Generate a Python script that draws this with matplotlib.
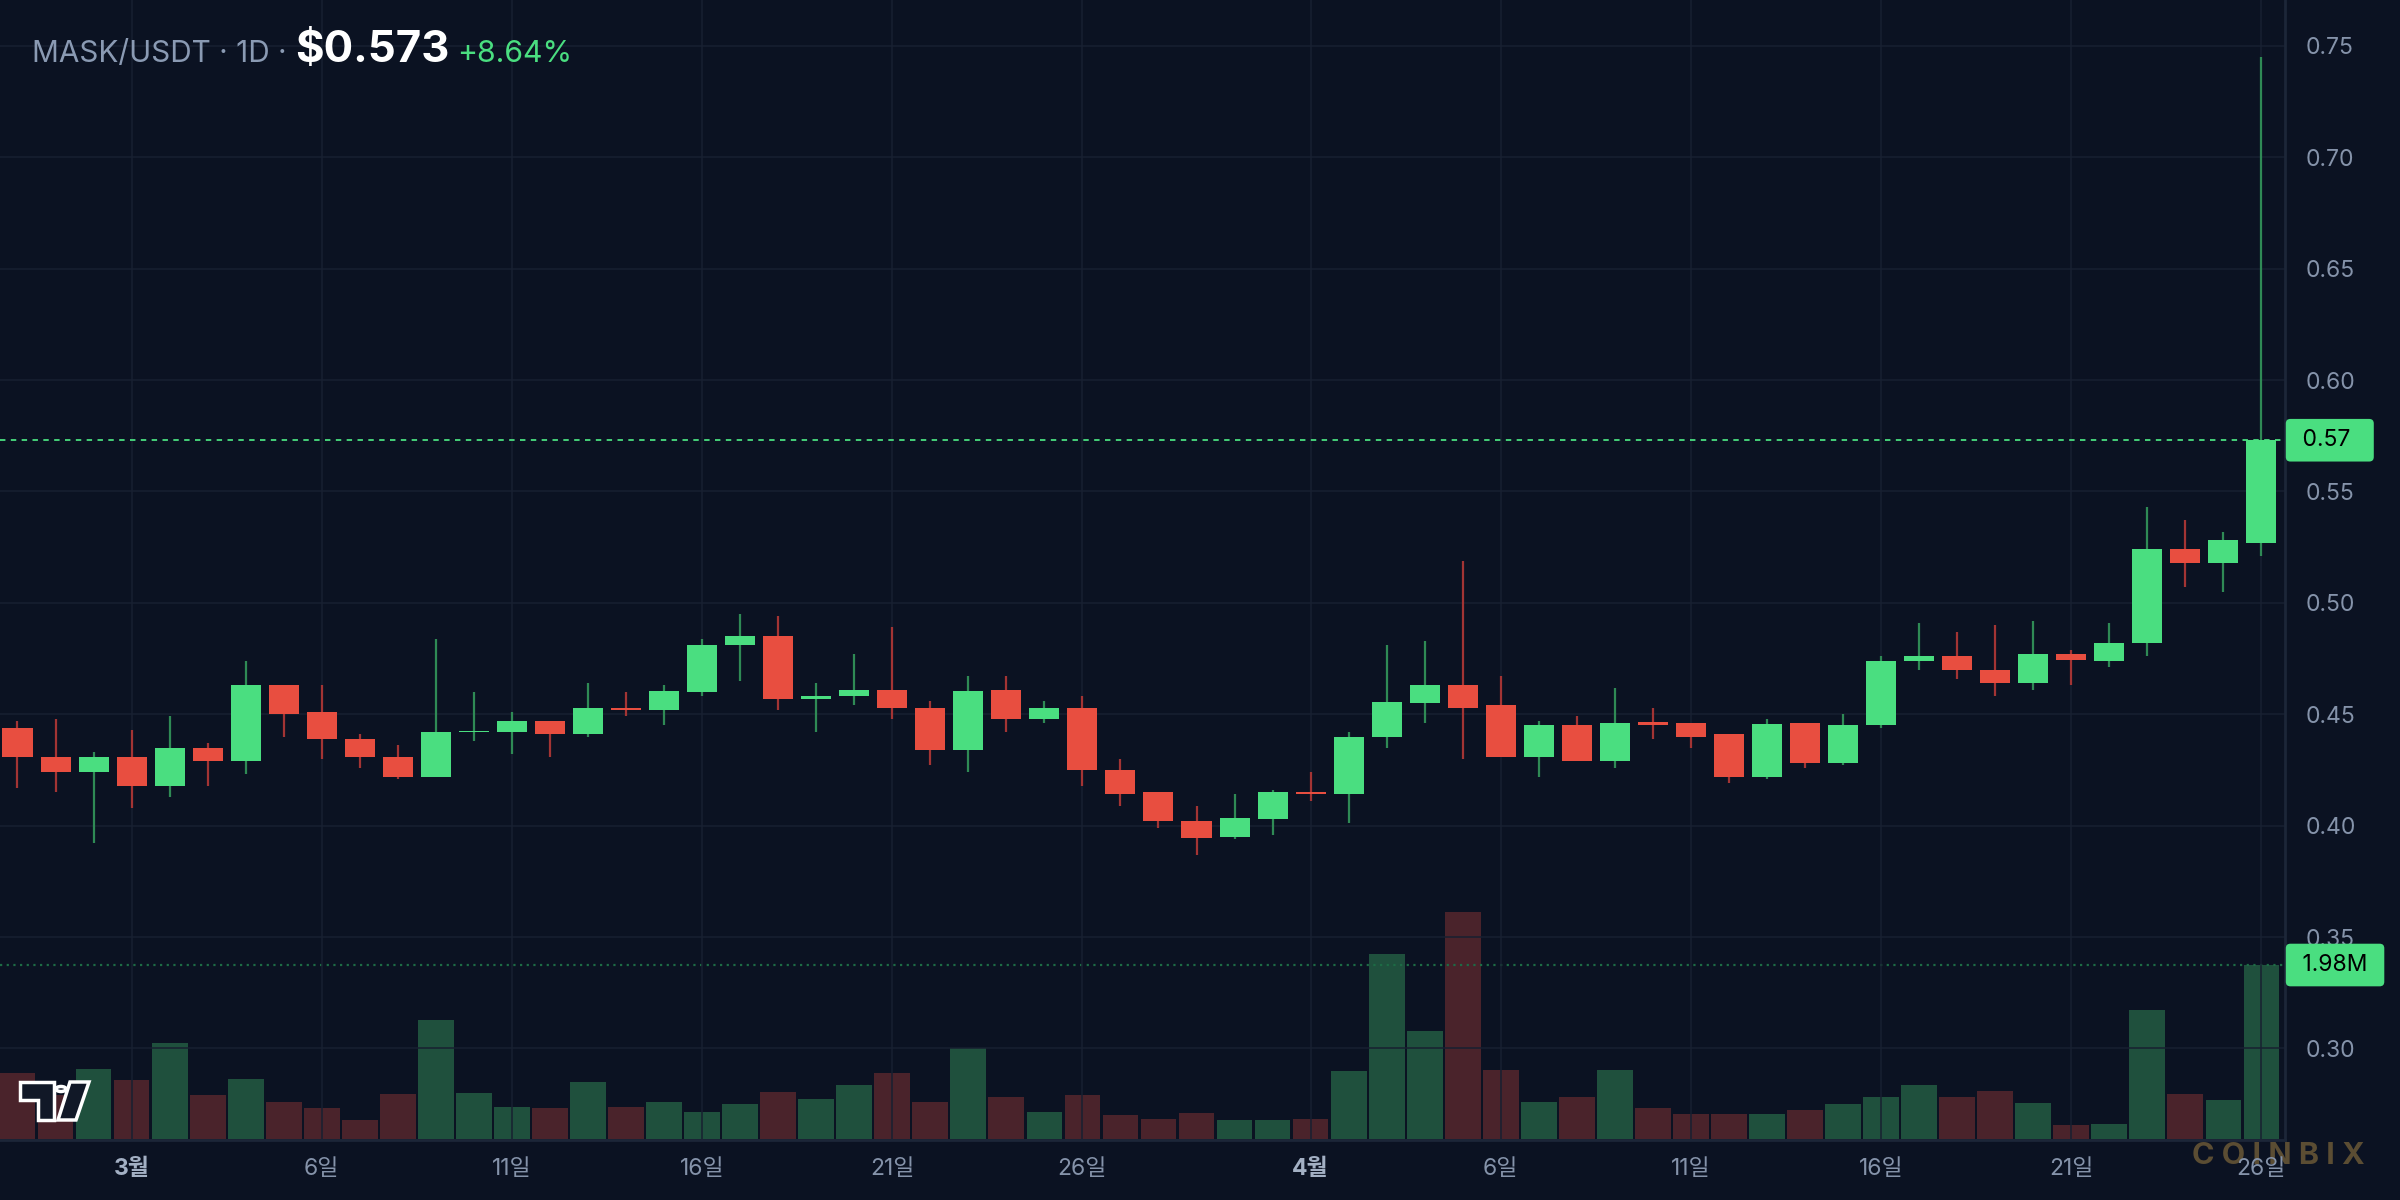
import numpy as np
import pandas as pd
import matplotlib
matplotlib.use("Agg")
import matplotlib.pyplot as plt
from matplotlib.patches import Polygon, Circle
from matplotlib.ticker import MultipleLocator, FormatStrFormatter
from matplotlib.transforms import blended_transform_factory

# daily candles, 2025-02-26 .. 2025-04-26
dates = pd.date_range("2025-02-26", "2025-04-26", freq="D")

opens = [0.444, 0.431, 0.424, 0.431, 0.418, 0.435, 0.429, 0.463, 0.451, 0.439,
         0.431, 0.422, 0.442, 0.442, 0.447, 0.441, 0.453, 0.452, 0.460, 0.481,
         0.485, 0.457, 0.458, 0.461, 0.453, 0.434, 0.461, 0.448, 0.453, 0.425,
         0.415, 0.402, 0.395, 0.403, 0.415, 0.414, 0.440, 0.455, 0.463, 0.454,
         0.431, 0.445, 0.429, 0.4465, 0.446, 0.441, 0.422, 0.446, 0.428, 0.445,
         0.474, 0.476, 0.470, 0.464, 0.477, 0.474, 0.482, 0.524, 0.518, 0.527]
highs = [0.447, 0.448, 0.433, 0.443, 0.449, 0.437, 0.474, 0.463, 0.463, 0.441,
         0.436, 0.484, 0.460, 0.451, 0.447, 0.464, 0.460, 0.463, 0.484, 0.495,
         0.494, 0.464, 0.477, 0.489, 0.456, 0.467, 0.467, 0.456, 0.458, 0.430,
         0.415, 0.409, 0.414, 0.416, 0.424, 0.442, 0.481, 0.483, 0.519, 0.467,
         0.447, 0.449, 0.462, 0.453, 0.446, 0.441, 0.448, 0.446, 0.450, 0.476,
         0.491, 0.487, 0.490, 0.492, 0.479, 0.491, 0.543, 0.537, 0.532, 0.745]
lows = [0.417, 0.415, 0.392, 0.408, 0.413, 0.418, 0.423, 0.440, 0.430, 0.426,
        0.421, 0.422, 0.438, 0.432, 0.431, 0.440, 0.449, 0.445, 0.458, 0.465,
        0.452, 0.442, 0.454, 0.448, 0.427, 0.424, 0.442, 0.446, 0.418, 0.409,
        0.399, 0.387, 0.394, 0.396, 0.411, 0.401, 0.435, 0.446, 0.430, 0.431,
        0.422, 0.429, 0.426, 0.439, 0.435, 0.419, 0.421, 0.426, 0.427, 0.444,
        0.470, 0.466, 0.458, 0.461, 0.463, 0.471, 0.476, 0.507, 0.505, 0.521]
closes = [0.431, 0.424, 0.431, 0.418, 0.435, 0.429, 0.463, 0.450, 0.439, 0.431,
          0.422, 0.442, 0.4425, 0.447, 0.441, 0.453, 0.452, 0.4605, 0.481, 0.485,
          0.457, 0.458, 0.461, 0.453, 0.434, 0.4605, 0.448, 0.453, 0.425, 0.414,
          0.402, 0.3945, 0.4035, 0.415, 0.414, 0.440, 0.4555, 0.463, 0.453, 0.431,
          0.445, 0.429, 0.446, 0.445, 0.440, 0.422, 0.4456, 0.428, 0.445, 0.474,
          0.476, 0.470, 0.464, 0.477, 0.4744, 0.482, 0.524, 0.518, 0.528, 0.573]
# volume in millions
volumes = [0.75, 0.50, 0.80, 0.67, 1.09, 0.50, 0.68, 0.42, 0.35, 0.22,
           0.51, 1.35, 0.52, 0.36, 0.35, 0.65, 0.36, 0.42, 0.31, 0.40,
           0.54, 0.46, 0.61, 0.75, 0.42, 1.04, 0.48, 0.31, 0.50, 0.27,
           0.23, 0.30, 0.22, 0.22, 0.23, 0.77, 2.11, 1.23, 2.58, 0.79,
           0.42, 0.48, 0.79, 0.35, 0.28, 0.28, 0.28, 0.33, 0.40, 0.48,
           0.61, 0.48, 0.55, 0.41, 0.16, 0.17, 1.47, 0.51, 0.44, 1.98]

pair_label = "MASK/USDT · 1D ·"
last_price = "$0.573"
change_label = "+8.64%"

BG = "#0b1222"
GRID = "#182031"
UP = "#4ade80"
DOWN = "#e84e40"
UP_WICK = "#2f8a55"
DOWN_WICK = "#a33434"
VOL_UP = "#1f503d"
VOL_DOWN = "#4a232b"
TXT = "#8593aa"
FONT = ["Inter", "Noto Sans CJK KR", "DejaVu Sans"]

plt.rcParams["font.family"] = FONT

fig = plt.figure(figsize=(24, 12), dpi=100, facecolor=BG)
ax = fig.add_axes([0, 0.05, 2285 / 2400, 0.95])
ax_vol = ax.twinx()
ax.set_zorder(ax_vol.get_zorder() + 1)
ax.patch.set_visible(False)
ax_vol.patch.set_facecolor(BG)

idx = np.arange(len(dates))
o = np.array(opens)
c = np.array(closes)
up = c >= o

# volume
ax_vol.bar(idx, volumes, width=0.94, color=[VOL_UP if u else VOL_DOWN for u in up])
ax_vol.set_ylim(-0.011, 12.96)
ax_vol.set_yticks([])
for s in ax_vol.spines.values():
    s.set_visible(False)
ax_vol.axhline(volumes[-1], color="#1d6b45", lw=1.6, ls=(0, (1, 2)))

# candles
ax.vlines(idx, lows, highs, colors=[UP_WICK if u else DOWN_WICK for u in up], lw=1.6, zorder=3)
body = np.maximum(np.abs(c - o), 0.0006)
ax.bar(idx, body, bottom=np.minimum(o, c), width=0.79,
       color=[UP if u else DOWN for u in up], zorder=4)

ax.axhline(closes[-1], color=UP, lw=1.3, ls=(0, (3, 3)), zorder=2)

ax.set_xlim(-0.46, 59.62)
ax.set_ylim(0.2589, 0.7706)
ax.yaxis.set_major_locator(MultipleLocator(0.05))
ax.yaxis.set_major_formatter(FormatStrFormatter("%.2f"))
ax.yaxis.tick_right()
ax.tick_params(axis="y", length=0, pad=15, labelsize=16.5, labelcolor=TXT)

# date ticks: month start and every 5 days after it
tick_pos, tick_lab = [], []
seen_month = False
for i, d in enumerate(dates):
    if d.day == 1:
        seen_month = True
    if seen_month and d.day in (1, 6, 11, 16, 21, 26):
        tick_pos.append(i)
        tick_lab.append(f"{d.month}월" if d.day == 1 else f"{d.day}일")
ax.set_xticks(tick_pos)
ax.set_xticklabels(tick_lab)
ax.tick_params(axis="x", length=0, pad=13, labelsize=16.5, labelcolor=TXT)
for lab in ax.get_xticklabels():
    if lab.get_text().endswith("월"):
        lab.set_fontweight("bold")
        lab.set_color("#a3b0c4")

ax.grid(True, color=GRID, lw=1.1)
ax.set_axisbelow(True)
for name, s in ax.spines.items():
    if name in ("right", "bottom"):
        s.set_color("#1c2638")
        s.set_linewidth(2)
    else:
        s.set_visible(False)

# last value labels on the price scale
ax.annotate(f" {closes[-1]:.2f}  ", xy=(1, closes[-1]), xycoords=("axes fraction", "data"),
            xytext=(8, 0), textcoords="offset points", ha="left", va="center",
            fontsize=16.5, color="black", annotation_clip=False, zorder=10,
            bbox=dict(boxstyle="round,pad=0.45,rounding_size=0.2", fc=UP, ec="none"))
vol_tr = blended_transform_factory(ax.transAxes, ax_vol.transData)
ax.annotate(f" {volumes[-1]:.2f}M ", xy=(1, volumes[-1]), xycoords=vol_tr,
            xytext=(8, 0), textcoords="offset points", ha="left", va="center",
            fontsize=16.5, color="black", annotation_clip=False, zorder=10,
            bbox=dict(boxstyle="round,pad=0.45,rounding_size=0.2", fc=UP, ec="none"))

# header
fig.text(32 / 2400, 1 - 62 / 1200, pair_label, fontsize=21.4, color="#8a9ab3", va="baseline")
fig.text(295 / 2400, 1 - 62 / 1200, last_price, fontsize=31.5, color="white",
         fontweight="bold", va="baseline")
fig.text(457 / 2400, 1 - 62 / 1200, change_label, fontsize=21.8, color=UP, va="baseline")

# watermark
fig.text(2278 / 2400, 1 - 1156 / 1200, "C O I N B I X", fontsize=22, fontweight="bold",
         color="#5b4d33", ha="center", va="center", zorder=0)


def px(x, y):
    return (x / 2400, 1 - y / 1200)


# small tv logo, bottom left
logo_kw = dict(fc="#111827", ec="white", lw=2.5, transform=fig.transFigure, zorder=20)
fig.add_artist(Polygon([px(20, 1082), px(54, 1082), px(54, 1120), px(38, 1120),
                        px(38, 1100), px(20, 1100)], closed=True, **logo_kw))
fig.add_artist(Circle(px(61, 1089), 5 / 2400, **logo_kw))
fig.add_artist(Polygon([px(70, 1082), px(89, 1082), px(76, 1120), px(58, 1120)],
                       closed=True, **logo_kw))

fig.savefig("out.png", dpi=100, facecolor=BG)
